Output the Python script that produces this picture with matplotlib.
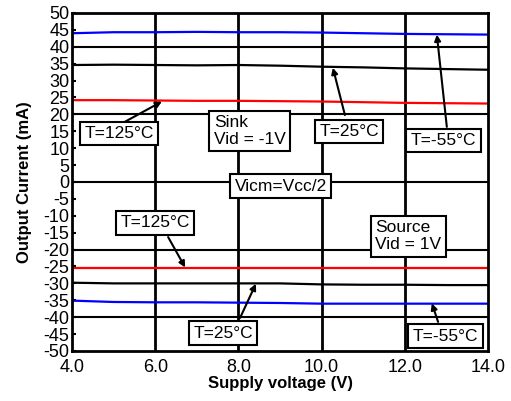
import matplotlib
matplotlib.use('Agg')
import matplotlib.pyplot as plt
import numpy as np

plt.rcParams['font.family'] = ['Liberation Sans', 'DejaVu Sans']

# supply voltage (V)
vcc = [4, 5, 6, 7, 8, 9, 10, 11, 12, 13, 14]

# sink current (mA), Vid = -1V
sink_m55 = [44.0, 44.3, 44.3, 44.4, 44.3, 44.3, 44.2, 44.0, 43.8, 43.7, 43.6]
sink_25 = [34.6, 34.7, 34.6, 34.5, 34.6, 34.4, 34.1, 33.9, 33.6, 33.4, 33.2]
sink_125 = [24.2, 24.2, 24.1, 24.0, 24.0, 23.9, 23.8, 23.6, 23.4, 23.3, 23.2]

# source current (mA), Vid = 1V
src_125 = [-25.4, -25.4, -25.4, -25.4, -25.4, -25.4, -25.4, -25.4, -25.4, -25.4, -25.4]
src_25 = [-29.8, -30.0, -30.0, -30.0, -30.0, -30.0, -30.3, -30.4, -30.4, -30.5, -30.5]
src_m55 = [-35.1, -35.5, -35.6, -35.6, -35.7, -35.8, -36.0, -36.0, -36.0, -36.0, -36.0]

xticks = [4, 6, 8, 10, 12, 14]
yticks = list(range(-50, 51, 5))
grid_y = [-40, -20, 0, 20, 40]
grid_x = [6, 8, 10, 12]

# annotation boxes: text, (x, y) centre
boxes = [
    ('T=125°C', (5.13, 14.3)),
    ('Sink\nVid = -1V', (8.27, 15.1)),
    ('T=25°C', (10.66, 14.9)),
    ('T=-55°C', (12.93, 12.3)),
    ('Vicm=Vcc/2', (9.02, -1.2)),
    ('T=125°C', (6.0, -12.1)),
    ('Source\nVid = 1V', (12.09, -16.1)),
    ('T=25°C', (7.63, -44.7)),
    ('T=-55°C', (12.98, -45.6)),
]
# arrows: tail -> tip
arrows = [
    ((5.27, 17.8), (6.16, 23.8)),
    ((10.56, 19.8), (10.27, 33.8)),
    ((13.01, 16.3), (12.77, 43.6)),
    ((6.31, -16.3), (6.72, -25.3)),
    ((8.04, -40.2), (8.42, -30.1)),
    ((12.8, -41.4), (12.65, -35.9)),
]

fig = plt.figure(figsize=(5.11, 4.01), dpi=100)
ax = fig.add_axes([0.141, 0.1247, 0.814, 0.843])

for gy in grid_y:
    ax.axhline(gy, color='black', lw=1.5, zorder=1)
for gx in grid_x:
    ax.axvline(gx, color='black', lw=2, zorder=1)

ax.plot(vcc, sink_m55, color='#0000ff', lw=1.6, zorder=2)
ax.plot(vcc, sink_25, color='black', lw=1.6, zorder=2)
ax.plot(vcc, sink_125, color='#ff0000', lw=1.6, zorder=2)
ax.plot(vcc, src_125, color='#ff0000', lw=1.6, zorder=2)
ax.plot(vcc, src_25, color='black', lw=1.6, zorder=2)
ax.plot(vcc, src_m55, color='#0000ff', lw=1.6, zorder=2)

for txt, (bx, by) in boxes:
    ax.text(bx, by, txt, ha='center', va='center', ma='left', fontsize=12.5,
            linespacing=1.15, zorder=5,
            bbox=dict(boxstyle='square,pad=0.25', fc='white', ec='black', lw=1.5))

for tail, tip in arrows:
    ax.annotate('', xy=tip, xytext=tail, zorder=6,
                arrowprops=dict(arrowstyle='-|>', color='black', lw=1.5,
                                mutation_scale=9, shrinkA=0, shrinkB=0))

ax.set_xlim(4, 14)
ax.set_ylim(-50, 50)
ax.set_xticks(xticks)
ax.set_xticklabels(['%.1f' % v for v in xticks], fontsize=13)
ax.set_yticks(yticks)
ax.set_yticklabels([str(v) for v in yticks], fontsize=13)
ax.tick_params(axis='y', direction='in', length=3, width=1.5, pad=2)
ax.tick_params(axis='x', length=0, pad=6)
for sp in ax.spines.values():
    sp.set_linewidth(2)

ax.set_xlabel('Supply voltage (V)', fontsize=12, fontweight='bold', labelpad=0)
ax.set_ylabel('Output Current (mA)', fontsize=12, fontweight='bold', labelpad=8)

fig.savefig('out.png', dpi=100)
